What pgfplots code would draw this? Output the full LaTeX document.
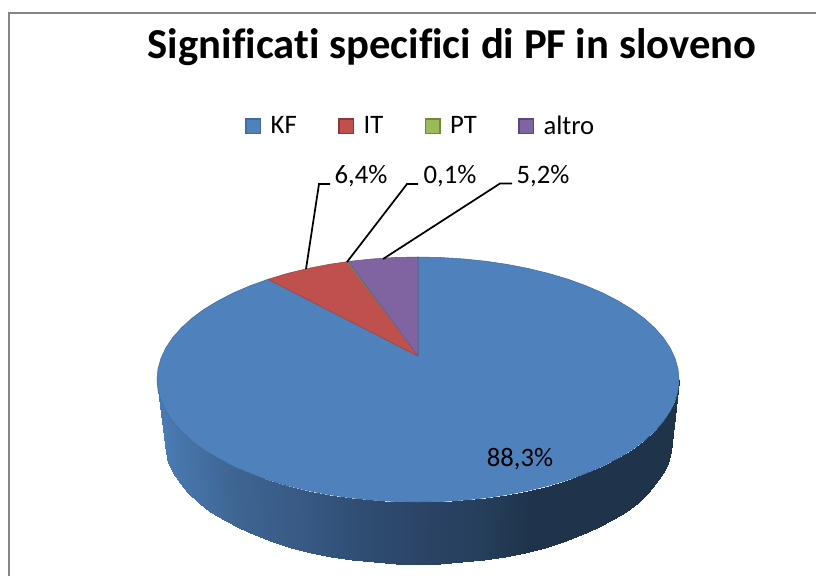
\documentclass[border=0pt]{standalone}
\usepackage{fontspec}
\setmainfont[Ligatures=NoCommon]{Carlito}
\usepackage{pgfplots}
\pgfplotsset{compat=1.18}
\definecolor{kf}{HTML}{4F81BD}
\definecolor{itc}{HTML}{C0504D}
\definecolor{ptc}{HTML}{9BBB59}
\definecolor{alt}{HTML}{8064A2}
\definecolor{kfd}{HTML}{3F6CA3}
\definecolor{itd}{HTML}{8C3836}
\definecolor{ptd}{HTML}{71893F}
\definecolor{altd}{HTML}{5C4776}
\definecolor{frame}{HTML}{868686}
\begin{document}
\begin{tikzpicture}
\begin{axis}[
  width=612pt, height=432pt, scale only axis,
  xmin=0, xmax=816, ymin=0, ymax=576, y dir=reverse,
  hide axis,
  title={\fontsize{32}{36}\selectfont\bfseries Significati specifici di PF in sloveno},
  title style={at={(0.554,0.904)}, anchor=center, inner sep=0pt},
  legend columns=4,
  legend style={at={(0.516,0.781)}, anchor=center, draw=none, fill=none,
    font=\fontsize{20}{22}\selectfont,
    /tikz/every even column/.append style={column sep=29pt},
    /tikz/every odd column/.append style={column sep=5pt},
    inner sep=0pt, row sep=0pt},
  legend cell align=left,
  legend image code/.code={\draw[#1,line width=1.1pt] (0pt,-5.5pt) rectangle (11pt,5.5pt);},
  colormap={side}{
    rgb255(0pt)=(74,124,180); rgb255(73pt)=(63,101,147); rgb255(140pt)=(56,90,133);
    rgb255(206pt)=(47,77,114); rgb255(263pt)=(43,68,103); rgb255(323pt)=(38,63,92);
    rgb255(373pt)=(31,52,76); rgb255(522pt)=(31,51,73)},
  point meta min=157, point meta max=679,
]
% page background and chart frame
\addplot[forget plot, fill=white, draw=none] coordinates {(0,0) (816,0) (816,576) (0,576) (0,0)};
\addplot[forget plot, frame, line width=1.5pt] coordinates {(816,12.5) (9,12.5) (9,576)};

% side wall of the pie
\addplot[forget plot, patch, patch type=rectangle, shader=interp,
  patch table={0 1 3 2\\2 3 5 4\\4 5 7 6\\6 7 9 8\\8 9 11 10\\10 11 13 12\\12 13 15 14\\14 15 17 16\\16 17 19 18\\18 19 21 20\\20 21 23 22\\22 23 25 24\\24 25 27 26\\26 27 29 28\\28 29 31 30\\30 31 33 32\\32 33 35 34\\34 35 37 36\\36 37 39 38\\38 39 41 40\\40 41 43 42\\42 43 45 44\\44 45 47 46\\46 47 49 48\\48 49 51 50\\50 51 53 52\\52 53 55 54\\54 55 57 56\\56 57 59 58\\58 59 61 60\\60 61 63 62\\62 63 65 64\\64 65 67 66\\66 67 69 68\\68 69 71 70\\70 71 73 72\\}]
 table[row sep=\\, point meta=\thisrow{c}] {
x y c\\
679.0 379.5 679\\
671.5 441.5 679\\
678.0 390.2 678\\
670.5 452.2 678\\
675.0 400.8 675\\
667.6 462.8 675\\
670.1 411.2 670\\
662.9 473.2 670\\
663.3 421.4 663\\
656.3 483.4 663\\
654.5 431.3 654\\
647.7 493.3 654\\
644.0 440.8 644\\
637.5 502.8 644\\
631.8 449.8 632\\
625.7 511.8 632\\
617.9 458.2 618\\
612.2 520.2 618\\
602.6 466.1 603\\
597.3 528.1 603\\
585.8 473.3 586\\
581.0 535.3 586\\
567.7 479.9 568\\
563.4 541.9 568\\
548.5 485.6 548\\
544.8 547.6 548\\
528.3 490.5 528\\
525.1 552.5 528\\
507.3 494.6 507\\
504.7 556.6 507\\
485.5 497.8 485\\
483.6 559.8 485\\
463.3 500.1 463\\
462.0 562.1 463\\
440.8 501.5 441\\
440.1 563.5 441\\
418.0 502.0 418\\
418.0 564.0 418\\
395.2 501.5 395\\
395.9 563.5 395\\
372.7 500.1 373\\
374.0 562.1 373\\
350.5 497.8 350\\
352.4 559.8 350\\
328.7 494.6 329\\
331.3 556.6 329\\
307.7 490.5 308\\
310.9 552.5 308\\
287.5 485.6 287\\
291.2 547.6 287\\
268.3 479.9 268\\
272.6 541.9 268\\
250.2 473.3 250\\
255.0 535.3 250\\
233.4 466.1 233\\
238.7 528.1 233\\
218.1 458.2 218\\
223.8 520.2 218\\
204.2 449.8 204\\
210.3 511.8 204\\
192.0 440.8 192\\
198.5 502.8 192\\
181.5 431.3 181\\
188.3 493.3 181\\
172.7 421.4 173\\
179.7 483.4 173\\
165.9 411.2 166\\
173.1 473.2 166\\
161.0 400.8 161\\
168.4 462.8 161\\
158.0 390.2 158\\
165.5 452.2 158\\
157.0 379.5 157\\
164.5 441.5 157\\
};

% top face: KF
\addplot[forget plot, fill=kf, draw=kfd, line width=0.4pt] coordinates {
(418,356) (418,257) (440.8,257.5) (463.3,258.9) (485.5,261.2) (507.3,264.4) (528.3,268.5) (548.5,273.4)
(567.7,279.1) (585.8,285.7) (602.6,292.9) (617.9,300.8) (631.8,309.2) (644,318.2) (654.5,327.7)
(663.3,337.6) (670.1,347.8) (675,358.2) (678,368.8) (679,379.5) (678,390.2) (675,400.8) (670.1,411.2)
(663.3,421.4) (654.5,431.3) (644,440.8) (631.8,449.8) (617.9,458.2) (602.6,466.1) (585.8,473.3)
(567.7,479.9) (548.5,485.6) (528.3,490.5) (507.3,494.6) (485.5,497.8) (463.3,500.1) (440.8,501.5)
(418,502) (395.2,501.5) (372.7,500.1) (350.5,497.8) (328.7,494.6) (307.7,490.5) (287.5,485.6)
(268.3,479.9) (250.2,473.3) (233.4,466.1) (218.1,458.2) (204.2,449.8) (192,440.8) (181.5,431.3)
(172.7,421.4) (165.9,411.2) (161,400.8) (158,390.2) (157,379.5) (158,368.8) (161,358.2) (165.9,347.8)
(172.7,337.6) (181.5,327.7) (192,318.2) (204.2,309.2) (218.1,300.8) (233.4,292.9) (250.2,285.7)
(268,279.3) (418,356)};
% IT
\addplot[forget plot, fill=itc, draw=itd!60!itc, line width=0.4pt] coordinates {
(418,356) (268,279.3) (287.5,273.4) (307.7,268.5) (328.7,264.4) (347,261.7) (418,356)};
% PT
\addplot[forget plot, fill=ptc, draw=ptd, line width=0.4pt] coordinates {
(418,356) (347,261.7) (348.2,261.5) (418,356)};
% altro
\addplot[forget plot, fill=alt, draw=altd!60!alt, line width=0.4pt] coordinates {
(418,356) (348.2,261.5) (350.5,261.2) (372.7,258.9) (395.2,257.5) (418,257) (418,356)};

% leader lines
\addplot[forget plot, black, line width=1.3pt] coordinates {(330,184) (319,184) (306,269)};
\addplot[forget plot, black, line width=1.3pt] coordinates {(418,184) (407,184) (347,262)};
\addplot[forget plot, black, line width=1.3pt] coordinates {(512,183.5) (500,183.5) (383,259)};

% legend
\addlegendimage{fill=kf, draw=kfd}
\addlegendentry{KF}
\addlegendimage{fill=itc, draw=itd}
\addlegendentry{IT}
\addlegendimage{fill=ptc, draw=ptd}
\addlegendentry{PT}
\addlegendimage{fill=alt, draw=altd}
\addlegendentry{altro}

% data labels
\node[font=\fontsize{20}{22}\selectfont] at (axis cs:361,176.5) {6,4\%};
\node[font=\fontsize{20}{22}\selectfont] at (axis cs:450,176.5) {0,1\%};
\node[font=\fontsize{20}{22}\selectfont] at (axis cs:543,176.5) {5,2\%};
\node[font=\fontsize{20}{22}\selectfont] at (axis cs:520,459) {88,3\%};
\end{axis}
\end{tikzpicture}
\end{document}
